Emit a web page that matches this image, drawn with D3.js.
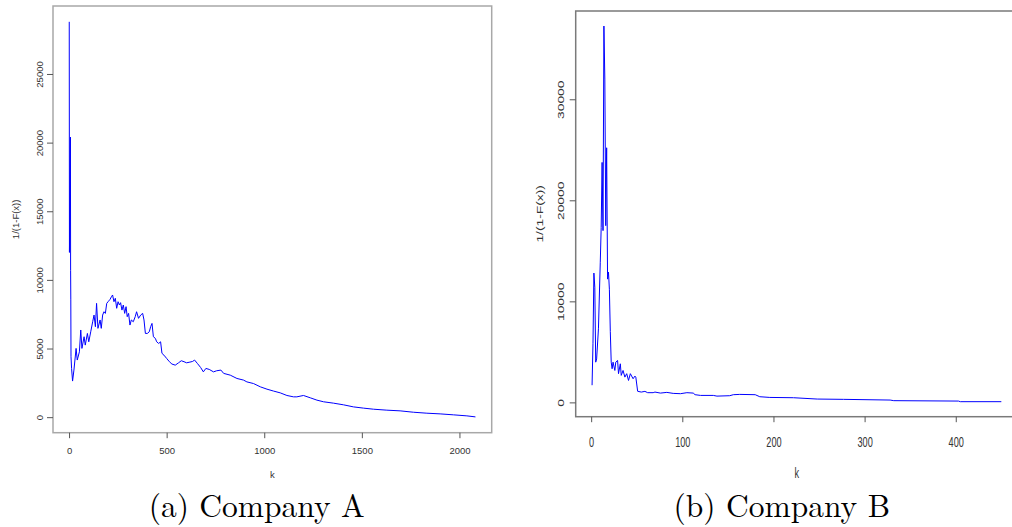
<!DOCTYPE html>
<meta charset="utf-8">
<style>
body {
    margin: 0;
    background: #fff;
}
.frame {
    fill: none;
    stroke-width: 1.5px;
}
.tick line {
    stroke: #555;
}
.lbl {
    font-family: "Liberation Sans", Arial, sans-serif;
    fill: #333;
}
.caption {
    font-family: "Latin Modern Roman", "Liberation Serif", serif;
    font-size: 31.5px;
    fill: #000;
}
</style>
<body>
    <script src="https://cdn.jsdelivr.net/npm/d3@7"></script>
    <script>
        const width = 1012;
        const height = 527;

        // Company A: k versus 1/(1-F(x))
        const kA = [1, 2, 7, 8, 9, 10, 13, 18, 25, 36, 42, 53, 60, 66, 77, 83, 94, 101, 111, 121,
            128, 135, 141, 148, 159, 165, 172, 179, 186, 193, 200, 210, 217, 223, 230, 237, 244, 251, 258, 264,
            271, 278, 285, 292, 298, 305, 312, 319, 329, 339, 346, 356, 367, 377, 384, 391, 401, 411, 418, 425,
            432, 442, 449, 459, 469, 476, 486, 500, 514, 527, 544, 561, 575, 589, 602, 619, 633, 643, 657, 674,
            688, 701, 718, 740, 756, 778, 792, 826, 860, 894, 911, 945, 980, 1014, 1048, 1082, 1116, 1150, 1167, 1201,
            1236, 1270, 1304, 1355, 1406, 1457, 1508, 1560, 1628, 1696, 1764, 1833, 1901, 1969, 2038, 2082];
        const vA = [28800, 12000, 20400, 10700, 8600, 4400, 3550, 2630, 3430, 5010, 4160, 4760, 6350, 5010, 5860, 5250, 6100, 5490, 6220, 6950,
            7440, 6590, 8290, 6470, 7080, 6470, 7440, 7680, 7560, 8290, 8410, 8580, 8770, 8900, 8410, 8660, 7930, 8410, 8170, 8340,
            7800, 8170, 7560, 8050, 7320, 7560, 6710, 7080, 6950, 7320, 7680, 7200, 7440, 7560, 7080, 6100, 6100, 6220, 6590, 6830,
            5860, 5740, 5490, 5370, 5490, 4650, 4520, 4280, 4040, 3870, 3790, 3960, 4110, 4040, 3960, 4010, 4060, 4160, 3920, 3620,
            3300, 3550, 3480, 3300, 3380, 3430, 3190, 3060, 2820, 2700, 2570, 2450, 2210, 2040, 1900, 1770, 1580, 1480, 1480, 1580,
            1410, 1240, 1120, 1020, 900, 750, 660, 580, 510, 460, 360, 290, 240, 170, 95, 20];

        // Company B: k versus 1/(1-F(x))
        const kB = [1, 2, 3, 4, 5, 6, 8, 10, 11, 12, 13, 14, 15, 16, 17, 18, 19, 20, 21, 22,
            23, 24, 26, 27, 29, 30, 32, 33, 35, 37, 39, 41, 43, 46, 48, 49, 51, 55, 59, 62,
            68, 70, 76, 83, 90, 98, 105, 112, 114, 120, 134, 138, 152, 156, 163, 180, 185, 196, 222, 248,
            277, 328, 332, 403, 405, 450];
        const vB = [1700, 5800, 12800, 11400, 3980, 4300, 7280, 13870, 17300, 23750, 17000, 37250, 32000, 17490, 25200, 12200, 12900, 11200, 7000, 3980,
            3330, 3980, 3160, 3980, 4150, 2840, 3820, 2670, 3160, 2500, 2840, 2170, 2840, 2340, 2600, 2500, 1100, 1020, 1090, 960,
            960, 1020, 920, 990, 890, 860, 960, 920, 760, 690, 690, 620, 660, 760, 790, 760, 560, 490, 460, 330,
            300, 230, 170, 130, 70, 70];

        const ticksAX = [0, 500, 1000, 1500, 2000];
        const ticksAY = [0, 5000, 10000, 15000, 20000, 25000];
        const ticksBX = [0, 100, 200, 300, 400];
        const ticksBY = [0, 10000, 20000, 30000];
        const captions = ["(a) Company A", "(b) Company B"];

        // R style range: data extent widened by 4% at each end
        function padded(values) {
            const ext = d3.extent(values);
            const d = (ext[1] - ext[0]) * 0.04;
            return [ext[0] - d, ext[1] + d];
        }

        const panels = [
            {
                k: kA, v: vA, xt: ticksAX, yt: ticksAY, caption: captions[0],
                left: 53, right: 491.7, top: 6, bottom: 432.7,
                frame: "#a8a8a8", sx: 1, sy: 1, font: 9.5,
                yOff: -10.3, xOff: 21.3, yTitleX: 18.5, kY: 478, capX: 256.7
            },
            {
                k: kB, v: vB, xt: ticksBX, yt: ticksBY, caption: captions[1],
                left: 575.7, right: 1017.7, top: 11, bottom: 416.7,
                frame: "#7a7a7a", sx: 0.92, sy: 1.38, font: 10,
                yOff: -11.7, xOff: 29.8, yTitleX: 543, kY: 478, capX: 781.7
            }
        ];

        const svg = d3.select("body").append("svg")
            .attr("width", width)
            .attr("height", height);

        for (let p of panels) {
            const x = d3.scaleLinear().domain(padded(p.k)).range([p.left, p.right]);
            const y = d3.scaleLinear().domain(padded(p.v)).range([p.bottom, p.top]);
            const pts = p.k.map(function(k, i) { return [k, p.v[i]]; });
            const g = svg.append("g");

            g.append("path")
                .datum(pts)
                .attr("fill", "none")
                .attr("stroke", "#0000ff")
                .attr("stroke-width", 1)
                .attr("d", d3.line()
                    .x(function(d) { return x(d[0]); })
                    .y(function(d) { return y(d[1]); }));

            g.append("rect")
                .attr("class", "frame")
                .attr("x", p.left)
                .attr("y", p.top)
                .attr("width", p.right - p.left)
                .attr("height", p.bottom - p.top)
                .attr("stroke", p.frame);

            const scaleTf = "scale(" + p.sx + "," + p.sy + ")";

            const yAxis = g.append("g")
                .attr("transform", "translate(" + p.left + ",0)")
                .call(d3.axisLeft(y).tickValues(p.yt).tickSize(6).tickSizeOuter(0).tickFormat(d3.format("d")));
            yAxis.select(".domain").remove();
            yAxis.selectAll("text")
                .attr("class", "lbl")
                .attr("x", 0).attr("y", 0).attr("dy", 0)
                .style("font-size", p.font + "px")
                .attr("text-anchor", "middle")
                .attr("transform", "translate(" + p.yOff + ",0) " + scaleTf + " rotate(-90)");

            const xAxis = g.append("g")
                .attr("transform", "translate(0," + p.bottom + ")")
                .call(d3.axisBottom(x).tickValues(p.xt).tickSize(5.5).tickSizeOuter(0).tickFormat(d3.format("d")));
            xAxis.select(".domain").remove();
            xAxis.selectAll("text")
                .attr("class", "lbl")
                .attr("x", 0).attr("y", 0).attr("dy", 0)
                .style("font-size", p.font + "px")
                .attr("text-anchor", "middle")
                .attr("transform", "translate(0," + p.xOff + ") " + scaleTf);

            g.append("text")
                .attr("class", "lbl")
                .style("font-size", p.font + "px")
                .attr("text-anchor", "middle")
                .attr("transform", "translate(" + ((p.left + Math.min(p.right, 1012 + 5.7)) / 2) + "," + p.kY + ") " + scaleTf)
                .text("k");

            g.append("text")
                .attr("class", "lbl")
                .style("font-size", p.font + "px")
                .attr("text-anchor", "middle")
                .attr("transform", "translate(" + p.yTitleX + "," + ((p.top + p.bottom) / 2) + ") " + scaleTf + " rotate(-90)")
                .text("1/(1-F(x))");

            g.append("text")
                .attr("class", "caption")
                .attr("x", p.capX)
                .attr("y", 517)
                .attr("text-anchor", "middle")
                .text(p.caption);
        }
    </script>
</body>
